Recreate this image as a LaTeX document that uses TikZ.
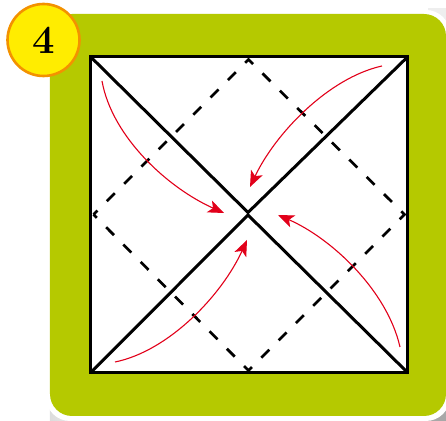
\documentclass[tikz,border=0pt]{standalone}
\usepackage{xcolor}
\usetikzlibrary{arrows.meta, calc}
\definecolor{PanelGreen}{HTML}{B5C900}
\definecolor{BadgeYellow}{HTML}{FFED00}
\definecolor{BadgeOrange}{HTML}{F39200}
\definecolor{FoldRed}{HTML}{E2001A}
\definecolor{ShadowGrey}{HTML}{A8A8A8}

\begin{document}
\begin{tikzpicture}[x=0.5pt, y=-0.5pt,
    edge/.style={black, line width=1.5pt},
    fold/.style={black, line width=1.35pt, dash pattern=on 5.6pt off 6.63pt, dash phase=2.8pt},
    turn/.style={-{Stealth[length=8pt, width=6.4pt, inset=2pt]}, FoldRed, line width=0.55pt},
    badge/.style={circle, draw=BadgeOrange, fill=BadgeYellow, line width=1.3pt,
                  minimum size=36pt, inner sep=0pt, font=\bfseries\fontsize{20}{20}\selectfont}]
  \useasboundingbox (0,0) rectangle (446,421);
  % panel
  \shade[left color=ShadowGrey!40, right color=white] (50,400) rectangle (115,421);
  \fill[ShadowGrey] (424,398) rectangle (446,421);
  \fill[ShadowGrey!20] (428,8) rectangle (446,28);
  \fill[white, rounded corners=12pt] (46,10) rectangle (450,421);
  \fill[PanelGreen, rounded corners=11pt] (50,14) rectangle (446,416);
  \fill[white] (90,56) rectangle (408,373);
  % corners of the sheet
  \coordinate (nw) at (90.3,56.5);
  \coordinate (ne) at (408,56.5);
  \coordinate (se) at (408,373);
  \coordinate (sw) at (90.3,373);
  \coordinate (midup) at (248,212.5);
  \coordinate (middown) at (248,215);
  % corners of the inner square
  \coordinate (dn) at (248.5,59.5);
  \coordinate (de) at (404.5,214.5);
  \coordinate (ds) at (248.5,370.5);
  \coordinate (dw) at (93.5,214.5);
  \draw[fold] (dw) -- (dn) -- (de) -- (ds) -- (dw);
  \draw[edge] (nw) -- (ne) -- (se) -- (sw) -- cycle;
  \draw[edge] (nw) -- (midup) -- (ne);
  \draw[edge] (sw) -- (middown) -- (se);
  % arrows to the middle
  \coordinate (tl) at (102,81);
  \coordinate (tlend) at (224,213);
  \coordinate (tr) at (382,66);
  \coordinate (trend) at (250,187);
  \coordinate (bl) at (115,362);
  \coordinate (blend) at (247,240);
  \coordinate (br) at (400,347);
  \coordinate (brend) at (278,215);
  \draw[turn] (tl) .. controls (112,137) and (168,188) .. (tlend);
  \draw[turn] (tr) .. controls (328,78) and (275,134) .. (trend);
  \draw[turn] (bl) .. controls (169,351) and (222,295) .. (blend);
  \draw[turn] (br) .. controls (387,290) and (331,238) .. (brend);
  \node[badge] (four) at (43.5,40) {\raisebox{-0.7pt}{4}};
\end{tikzpicture}
\end{document}
